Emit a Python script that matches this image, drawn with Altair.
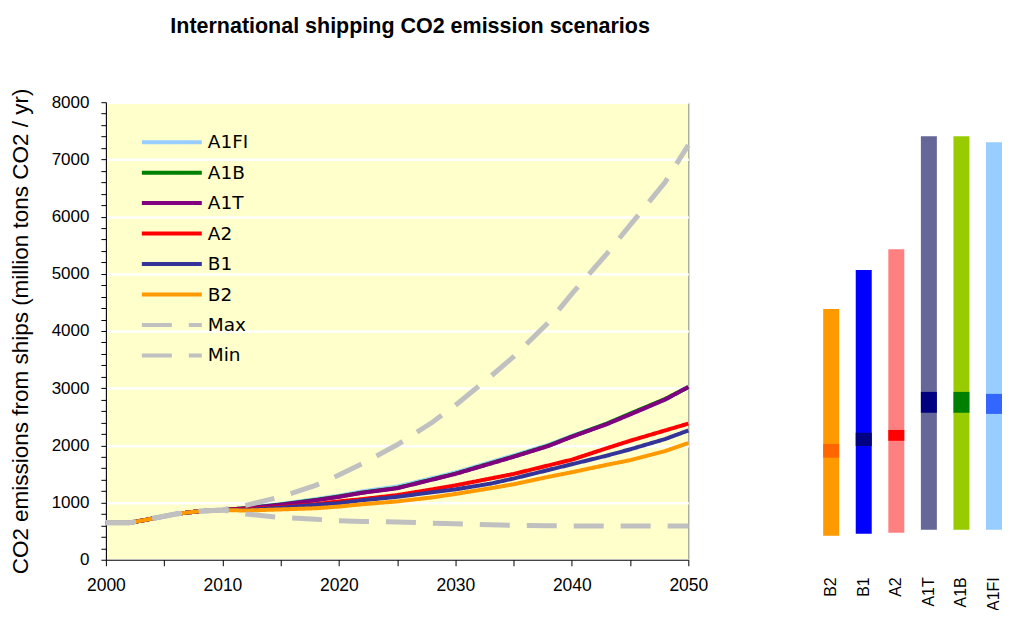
import altair as alt
import pandas as pd

# ---- data ----
years = [2000, 2002, 2004, 2006, 2008, 2010, 2012, 2015, 2018, 2020, 2022,
         2025, 2028, 2030, 2033, 2035, 2038, 2040, 2043, 2045, 2048, 2050]
early = [645, 645, 720, 800, 850, 870]

A1FI = early + [905, 975, 1060, 1120, 1195, 1280, 1425, 1525, 1705, 1825, 2010, 2165, 2380, 2545, 2800, 3020]
A1B = early + [900, 965, 1045, 1105, 1175, 1255, 1405, 1505, 1685, 1805, 1995, 2155, 2380, 2555, 2810, 3020]
A1T = early + [900, 960, 1040, 1100, 1170, 1250, 1400, 1500, 1680, 1800, 1990, 2150, 2370, 2540, 2800, 3020]
A2 = early + [880, 920, 970, 1020, 1060, 1130, 1230, 1300, 1420, 1500, 1650, 1750, 1950, 2080, 2260, 2380]
B1 = early + [870, 910, 960, 990, 1040, 1100, 1180, 1230, 1330, 1420, 1570, 1670, 1820, 1930, 2110, 2260]
B2 = early + [860, 880, 900, 930, 970, 1020, 1090, 1150, 1250, 1320, 1450, 1530, 1660, 1740, 1900, 2040]
Max = early + [950, 1100, 1300, 1480, 1680, 2010, 2400, 2700, 3200, 3550, 4150, 4650, 5350, 5850, 6600, 7250]
Min = early + [800, 740, 710, 680, 670, 660, 640, 630, 610, 600, 595, 590, 590, 590, 590, 590]

series_names = ["A1FI", "A1B", "A1T", "A2", "B1", "B2", "Max", "Min"]
series_values = [A1FI, A1B, A1T, A2, B1, B2, Max, Min]
line_colors = ["#99CCFF", "#008000", "#800080", "#FF0000", "#333399", "#FF9900", "#C0C0C0", "#C0C0C0"]
line_dashes = [[1, 0]] * 6 + [[30, 17]] * 2

# range bars (right panel), in 2050
scen = ["B2", "B1", "A2", "A1T", "A1B", "A1FI"]
scen_low = [420, 455, 470, 525, 525, 525]
scen_high = [4385, 5065, 5430, 7405, 7405, 7300]
scen_mid_low = [1785, 1990, 2080, 2570, 2570, 2550]
scen_mid_high = [2025, 2220, 2270, 2935, 2935, 2900]
bar_colors = ["#FF9900", "#0000FF", "#FF8080", "#666699", "#99CC00", "#99CCFF"]
mid_colors = ["#FF6600", "#000080", "#FF0000", "#000080", "#008000", "#3366FF"]

rows = []
for name, vals in zip(series_names, series_values):
    for yr, v in zip(years, vals):
        rows.append({"year": yr, "value": v, "series": name})
df = pd.DataFrame(rows)

bars_df = pd.DataFrame({"scen": scen, "low": scen_low, "high": scen_high,
                        "mlow": scen_mid_low, "mhigh": scen_mid_high})

FONT = "Liberation Sans"

x_axis = alt.Axis(values=list(range(2000, 2051, 5)),
                  labelExpr="datum.value % 10 === 0 ? datum.label : ''",
                  format="d", title=None, grid=False, tickSize=6,
                  labelFontSize=17.5, labelFlush=False, labelOverlap=False, labelPadding=11)
y_axis = alt.Axis(values=list(range(0, 8001, 200)),
                  labelExpr="datum.value % 1000 === 0 ? datum.label : ''",
                  format="d", title="CO2 emissions from ships (million tons CO2 / yr)",
                  grid=True, gridColor="white", gridWidth=2.5,
                  gridOpacity={"condition": {"test": "datum.value % 1000 === 0", "value": 1}, "value": 0},
                  tickSize=5, labelFontSize=17, titleFontSize=22.5, titleFontWeight="normal",
                  titlePadding=19, labelPadding=12, labelOverlap=False)

legend = alt.Legend(title=None, orient="none", legendX=34, legendY=30,
                    symbolType="stroke", symbolSize=3600, symbolStrokeWidth=4,
                    clipHeight=20, rowPadding=10.5,
                    labelFont="DejaVu Sans", labelFontSize=18.5, labelColor="black",
                    labelOffset=4, padding=0)

color_scale = alt.Scale(domain=series_names, range=line_colors)
dash_scale = alt.Scale(domain=series_names, range=line_dashes)

base = alt.Chart(df).encode(
    x=alt.X("year:Q", scale=alt.Scale(domain=[2000, 2050], nice=False, zero=False), axis=x_axis),
    y=alt.Y("value:Q", scale=alt.Scale(domain=[0, 8000], nice=False), axis=y_axis),
    color=alt.Color("series:N", scale=color_scale, legend=legend),
    strokeDash=alt.StrokeDash("series:N", scale=dash_scale, legend=legend),
)

layers = []
for name in series_names:
    sw = 5 if name in ("Max", "Min") else 4
    layers.append(base.transform_filter(alt.datum.series == name).mark_line(strokeWidth=sw, strokeCap="butt"))

left = alt.layer(*layers).properties(
    width=583, height=458,
    title=alt.TitleParams("International shipping CO2 emission scenarios", fontSize=21.5,
                          fontWeight="bold", font=FONT, anchor="middle", offset=51, dx=13,
                          color="black"),
    view=alt.ViewBackground(fill="#FFFFCC", stroke="#888888"),
)

xr = alt.X("scen:N", sort=scen, scale=alt.Scale(paddingInner=0.509, paddingOuter=0),
           axis=alt.Axis(title=None, labelAngle=270, labelFontSize=16, domain=False,
                         ticks=False, labelPadding=17))
yscale = alt.Scale(domain=[0, 8000], nice=False)
bar = alt.Chart(bars_df).mark_bar().encode(
    x=xr, y=alt.Y("low:Q", scale=yscale, axis=None), y2="high:Q",
    color=alt.Color("scen:N", scale=alt.Scale(domain=scen, range=bar_colors), legend=None))
med = alt.Chart(bars_df).mark_bar().encode(
    x=xr, y=alt.Y("mlow:Q", scale=yscale, axis=None), y2="mhigh:Q",
    color=alt.Color("scen:N", scale=alt.Scale(domain=scen, range=mid_colors), legend=None))
right = alt.layer(bar, med).resolve_scale(color="independent").properties(
    width=179, height=458, view=alt.ViewBackground(fill="white", stroke="transparent"))

chart = alt.hconcat(left, right, spacing=114).properties(
    padding={"left": 0, "top": 6, "right": 0, "bottom": -2}
).configure(font=FONT).configure_axis(
    labelFont=FONT, titleFont=FONT, labelColor="black", titleColor="black",
    domainColor="black", tickColor="black")

chart.save("out.html", embed_options={"renderer": "svg", "actions": False})
